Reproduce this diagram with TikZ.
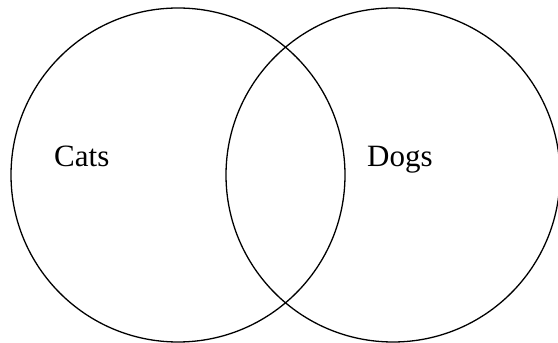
\documentclass[tikz,border=0pt]{standalone}
\usepackage{fontspec}
\setmainfont{Liberation Serif}
\usetikzlibrary{positioning}

\begin{document}
\begin{tikzpicture}[
    x=1pt, y=1pt,
    set/.style={draw=black, circle, line width=1.3pt, inner sep=0pt,
                minimum size=334pt},
    setlabel/.style={font=\fontsize{31}{33}\selectfont, anchor=base west,
                     inner sep=0pt},
  ]
  \useasboundingbox (0,0) rectangle (558,343);

  % The two sets
  \node[set] (cats) at (178,168) {};
  \node[set] (dogs) at (393,168) {};

  % Labels
  \node[setlabel] (catslbl) at (54,176) {Cats};
  \node[setlabel] (dogslbl) at (367,176) {Dogs};
\end{tikzpicture}
\end{document}
